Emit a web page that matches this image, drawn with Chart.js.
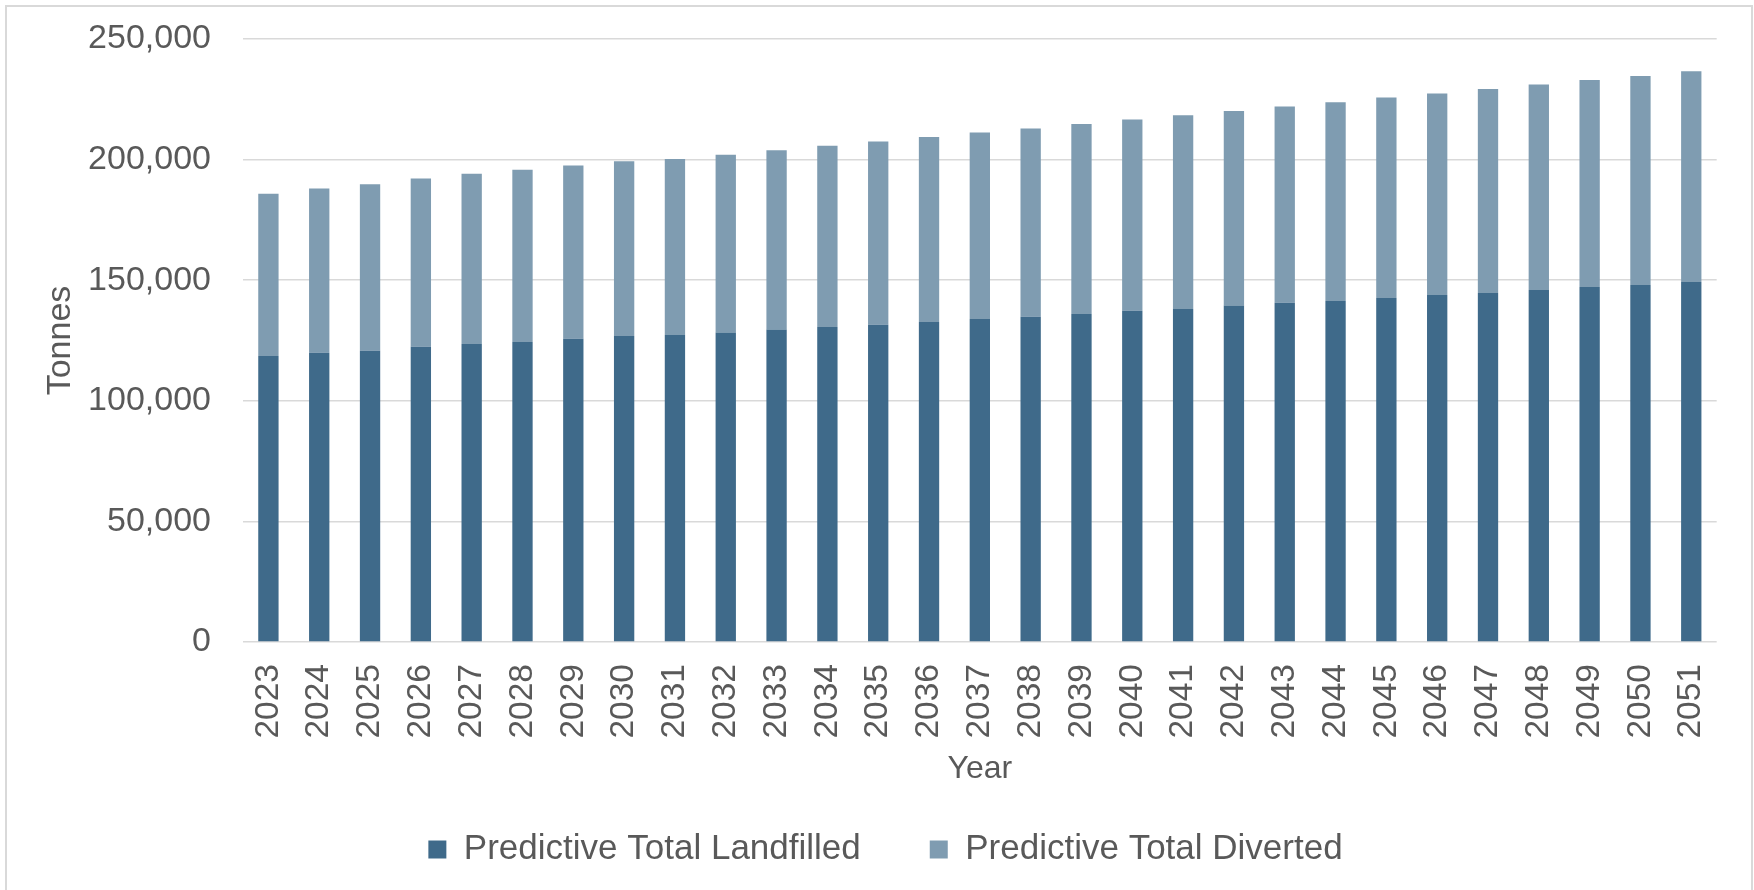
<!DOCTYPE html>
<html>
<head>
<meta charset="utf-8">
<title>Predictive Totals</title>
<script src="https://cdn.jsdelivr.net/npm/chart.js@4/dist/chart.umd.min.js"></script>
<style>
  html, body { margin: 0; padding: 0; background: #fff; overflow: hidden; }
  #frame {
    position: absolute; left: 5px; top: 5px;
    width: 1744px; height: 900px;
    border: 2px solid #d9d9d9;
  }
  #myChart { position: absolute; left: 0; top: 0; }
</style>
</head>
<body>
<div id="frame"></div>
<canvas id="myChart" width="1754" height="890"></canvas>
<script>
const ctx = document.getElementById('myChart');

const years = ['2023', '2024', '2025', '2026', '2027', '2028', '2029', '2030', '2031', '2032',
  '2033', '2034', '2035', '2036', '2037', '2038', '2039', '2040', '2041', '2042',
  '2043', '2044', '2045', '2046', '2047', '2048', '2049', '2050', '2051'];

// tonnes per year
const landfilled = [118600, 119900, 120700, 122400, 123600, 124400, 125700, 126900, 127300, 128300,
  129600, 130600, 131500, 132700, 133900, 134800, 136000, 137300, 138100, 139500,
  140600, 141400, 142600, 143900, 144700, 145900, 147200, 148000, 149300];

const diverted = [67200, 68100, 69100, 69800, 70500, 71400, 71900, 72400, 73000, 73700,
  74300, 75100, 76000, 76700, 77300, 78100, 78800, 79300, 80300, 80700,
  81400, 82400, 83100, 83500, 84600, 85200, 85800, 86700, 87300];

const yTicks = [0, 50000, 100000, 150000, 200000, 250000];

const fontFamily = '"Liberation Sans", Arial, sans-serif';
const textColor = '#595959';

// legend sits a little right of the canvas centre
const legendShift = {
  id: 'legendShift',
  afterLayout(chart) {
    chart.legend.left += 24;
    chart.legend.right += 24;
  }
};

let t = {
  type: 'bar',
  data: {
    labels: years,
    datasets: [
      {
        label: 'Predictive Total Landfilled',
        data: landfilled,
        backgroundColor: '#3f6a8a',
        barPercentage: 0.4,
        categoryPercentage: 1
      },
      {
        label: 'Predictive Total Diverted',
        data: diverted,
        backgroundColor: '#7f9cb1',
        barPercentage: 0.4,
        categoryPercentage: 1
      }
    ]
  },
  options: {
    responsive: false,
    animation: false,
    devicePixelRatio: 1,
    layout: {
      padding: { top: 39, left: 0, right: 31, bottom: 13 }
    },
    plugins: {
      tooltip: { enabled: false },
      legend: {
        position: 'bottom',
        labels: {
          boxWidth: 18,
          boxHeight: 18,
          padding: 69,
          color: textColor,
          font: { family: fontFamily, size: 35 }
        }
      }
    },
    scales: {
      x: {
        stacked: true,
        grid: { display: false, drawTicks: false },
        border: { display: false },
        ticks: {
          color: textColor,
          font: { family: fontFamily, size: 33.5 },
          minRotation: 90,
          maxRotation: 90,
          padding: 22,
          autoSkip: false
        },
        title: {
          display: true,
          text: 'Year',
          color: textColor,
          font: { family: fontFamily, size: 32 },
          padding: { top: 0, bottom: -25 }
        },
        afterFit: (scale) => { scale.height = 121; }
      },
      y: {
        stacked: true,
        min: 0,
        max: 250000,
        afterBuildTicks: (scale) => { scale.ticks = yTicks.map(v => ({ value: v })); },
        // invisible tick marks keep the labels clear of the plot
        grid: { color: '#d9d9d9', lineWidth: 1.5, drawTicks: true, tickLength: 29, tickColor: 'rgba(0,0,0,0)' },
        border: { display: false },
        ticks: {
          color: textColor,
          font: { family: fontFamily, size: 34 },
          padding: 3,
          callback: (v) => v.toLocaleString('en-US')
        },
        title: {
          display: true,
          text: 'Tonnes',
          color: textColor,
          font: { family: fontFamily, size: 34 },
          padding: { top: 40, bottom: 0 }
        },
        afterFit: (scale) => { scale.width = 243; }
      }
    }
  },
  plugins: [legendShift]
};

let cc = new Chart(ctx, t);
</script>
</body>
</html>
